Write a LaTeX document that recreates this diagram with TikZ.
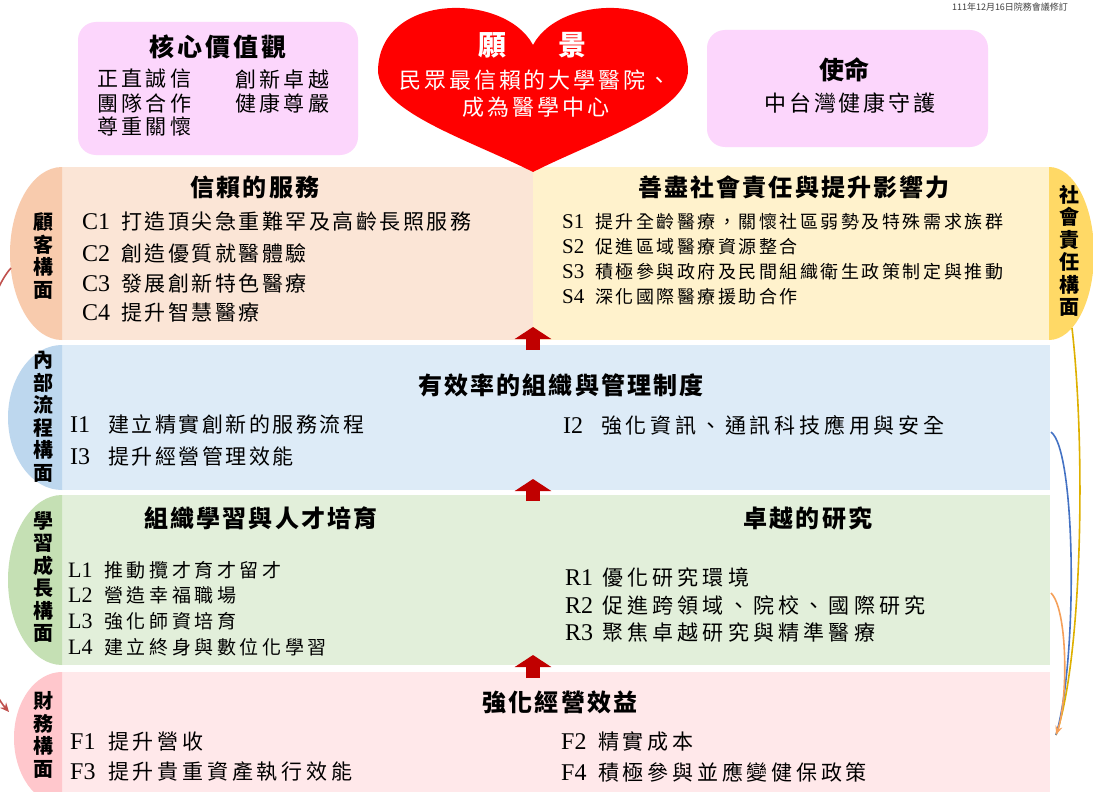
\documentclass[tikz,border=0pt]{standalone}
\usepackage{fontspec}
\setmainfont{Noto Sans CJK TC}
\newfontfamily\lat{Liberation Serif}
\usetikzlibrary{arrows.meta}
\definecolor{pinkbox}{RGB}{252,214,252}
\definecolor{heartred}{RGB}{255,0,0}
\definecolor{cusTab}{RGB}{248,203,173}
\definecolor{cusBody}{RGB}{251,229,214}
\definecolor{socBody}{RGB}{255,242,204}
\definecolor{socTab}{RGB}{255,217,102}
\definecolor{intTab}{RGB}{189,215,238}
\definecolor{intBody}{RGB}{221,235,247}
\definecolor{lrnTab}{RGB}{197,224,180}
\definecolor{lrnBody}{RGB}{226,239,218}
\definecolor{finTab}{RGB}{255,199,204}
\definecolor{finBody}{RGB}{255,232,234}
\definecolor{arrowred}{RGB}{192,0,0}
\definecolor{curveGold}{RGB}{222,176,0}
\definecolor{curveBlue}{RGB}{68,114,196}
\definecolor{curveOrange}{RGB}{245,160,90}
\definecolor{curveRed}{RGB}{192,80,77}
\newcommand\cd[3]{\makebox[#2pt][l]{\lat\fontsize{#1}{#1}\selectfont #3}}
\newcommand\fs[2]{\fontsize{#1}{#1}\selectfont\addfontfeatures{LetterSpace=#2}}
\tikzset{
  txt/.style={inner sep=0pt, anchor=west},
  ctr/.style={inner sep=0pt},
  ttl/.style={inner sep=0pt, font=\bfseries\fs{24}{9}},
  tablbl/.style={inner sep=0pt, align=center, font=\bfseries\fontsize{20}{22.5}\selectfont},
  pbox/.style={fill=pinkbox, rounded corners=18pt, inner sep=0pt},
  body/.style={inner sep=0pt, anchor=north west},
  blockarrow/.style={arrowred, line width=14pt, -{Triangle[width=36pt,length=12pt]}},
  curve/.style={line width=1.6pt}
}
\begin{document}
\begin{tikzpicture}[x=1pt,y=-1pt]
\useasboundingbox (0,0) rectangle (1093,792);
\fill[white] (0,0) rectangle (1093,792);

% date
\node[ctr, font=\fontsize{9}{9}\selectfont, black!75] (date) at (1010,7) {111年12月16日院務會議修訂};

% core values
\node[pbox, minimum width=280pt, minimum height=133pt] (core) at (218,88.5) {};
\node[ctr, font=\bfseries\fs{25}{12}] (coreT) at (218,47) {核心價值觀};
\node[txt, font=\fs{21}{16}] (v1) at (97,79) {正直誠信};
\node[txt, font=\fs{21}{16}] (v2) at (235,79) {創新卓越};
\node[txt, font=\fs{21}{16}] (v3) at (97,103) {團隊合作};
\node[txt, font=\fs{21}{16}] (v4) at (235,103) {健康尊嚴};
\node[txt, font=\fs{21}{16}] (v5) at (97,127) {尊重關懷};

% mission
\node[pbox, minimum width=281pt, minimum height=117pt] (mis) at (847.5,88.5) {};
\node[ctr, font=\bfseries\fs{25}{0}] (misT) at (844,70) {使命};
\node[ctr, font=\fs{22}{13}] (mis1) at (850,103) {中台灣健康守護};

% ---------- rows ----------
% customer
\node[body, fill=cusBody, minimum width=471pt, minimum height=173pt] (cusB) at (62,167) {};
\node[body, fill=socBody, minimum width=516pt, minimum height=173pt] (socB) at (533,167) {};
\fill[cusTab] (62,167) .. controls (33.3,167) and (10,205.7) .. (10,253.5) .. controls (10,301.3) and (33.3,340) .. (62,340) -- cycle;
\fill[socTab] (1049,167) .. controls (1073.9,167) and (1094,205.7) .. (1094,253.5) .. controls (1094,301.3) and (1073.9,340) .. (1049,340) -- cycle;
% internal
\node[body, fill=intBody, minimum width=988pt, minimum height=145pt] (intB) at (62,345) {};
\fill[intTab] (62,345) .. controls (32.2,345) and (8,377.5) .. (8,417.5) .. controls (8,457.5) and (32.2,490) .. (62,490) -- cycle;
% learning
\node[body, fill=lrnBody, minimum width=988pt, minimum height=170pt] (lrnB) at (62,495) {};
\fill[lrnTab] (62,495) .. controls (32.2,495) and (8,533) .. (8,580) .. controls (8,627) and (32.2,665) .. (62,665) -- cycle;
% finance
\node[body, fill=finBody, minimum width=988pt, minimum height=130pt] (finB) at (62,672) {};
\fill[finTab] (62,672) .. controls (35.5,672) and (14,701.3) .. (14,738) .. controls (14,774.7) and (35.5,805) .. (62,805) -- cycle;

% tab labels
\node[tablbl] (tabC) at (44,256) {顧\\客\\構\\面};
\node[tablbl] (tabS) at (1069,251) {社\\會\\責\\任\\構\\面};
\node[tablbl] (tabI) at (44,417) {內\\部\\流\\程\\構\\面};
\node[tablbl] (tabL) at (44,577) {學\\習\\成\\長\\構\\面};
\node[tablbl] (tabF) at (44,735) {財\\務\\構\\面};

% customer texts
\node[ttl] (cT) at (255,187) {信賴的服務};
\node[txt, font=\fs{21}{12}] (c1) at (82,222) {\cd{24}{39}{C1}打造頂尖急重難罕及高齡長照服務};
\node[txt, font=\fs{21}{12}] (c2) at (82,253) {\cd{24}{39}{C2}創造優質就醫體驗};
\node[txt, font=\fs{21}{12}] (c3) at (82,283) {\cd{24}{39}{C3}發展創新特色醫療};
\node[txt, font=\fs{21}{12}] (c4) at (82,313) {\cd{24}{39}{C4}提升智慧醫療};
% social texts
\node[ttl] (sT) at (794,187) {善盡社會責任與提升影響力};
\node[txt, font=\fs{18}{14}] (s1) at (562,222) {\cd{21}{33}{S1}提升全齡醫療，關懷社區弱勢及特殊需求族群};
\node[txt, font=\fs{18}{14}] (s2) at (562,247) {\cd{21}{33}{S2}促進區域醫療資源整合};
\node[txt, font=\fs{18}{14}] (s3) at (562,272) {\cd{21}{33}{S3}積極參與政府及民間組織衛生政策制定與推動};
\node[txt, font=\fs{18}{14}] (s4) at (562,297) {\cd{21}{33}{S4}深化國際醫療援助合作};
% internal texts
\node[ttl] (iT) at (561,385) {有效率的組織與管理制度};
\node[txt, font=\fs{21}{12}] (i1) at (70,425) {\cd{24}{38}{I1}建立精實創新的服務流程};
\node[txt, font=\fs{21}{18}] (i2) at (563,425) {\cd{24}{38}{I2}強化資訊、通訊科技應用與安全};
\node[txt, font=\fs{21}{12}] (i3) at (70,456) {\cd{24}{38}{I3}提升經營管理效能};
% learning texts
\node[ttl] (lT) at (261,518) {組織學習與人才培育};
\node[ttl] (rT) at (808,518) {卓越的研究};
\node[txt, font=\fs{19}{19}] (l1) at (68,570) {\cd{22}{36}{L1}推動攬才育才留才};
\node[txt, font=\fs{19}{19}] (l2) at (68,595) {\cd{22}{36}{L2}營造幸福職場};
\node[txt, font=\fs{19}{19}] (l3) at (68,621) {\cd{22}{36}{L3}強化師資培育};
\node[txt, font=\fs{19}{19}] (l4) at (68,647) {\cd{22}{36}{L4}建立終身與數位化學習};
\node[txt, font=\fs{21}{20}] (r1) at (565,577) {\cd{24}{37}{R1}優化研究環境};
\node[txt, font=\fs{21}{20}] (r2) at (565,605) {\cd{24}{37}{R2}促進跨領域、院校、國際研究};
\node[txt, font=\fs{21}{20}] (r3) at (565,633) {\cd{24}{37}{R3}聚焦卓越研究與精準醫療};
% finance texts
\node[ttl] (fT) at (560,702) {強化經營效益};
\node[txt, font=\fs{21}{18}] (f1) at (70,742) {\cd{24}{38}{F1}提升營收};
\node[txt, font=\fs{21}{18}] (f2) at (561,742) {\cd{24}{37}{F2}精實成本};
\node[txt, font=\fs{21}{18}] (f3) at (70,772) {\cd{24}{38}{F3}提升貴重資產執行效能};
\node[txt, font=\fs{21}{18}] (f4) at (561,772) {\cd{24}{37}{F4}積極參與並應變健保政策};

% block arrows between rows
\coordinate (a1s) at (533,350); \coordinate (a1e) at (533,327);
\coordinate (a2s) at (533,501); \coordinate (a2e) at (533,479);
\coordinate (a3s) at (533,678); \coordinate (a3e) at (533,655);
\draw[blockarrow] (a1s) -- (a1e);
\draw[blockarrow] (a2s) -- (a2e);
\draw[blockarrow] (a3s) -- (a3e);

% heart (vision)
\fill[heartred] (533,45) .. controls (505,-8) and (380,-8) .. (378,70) .. controls (378,112) and (470,140) .. (533,172) .. controls (596,140) and (688,112) .. (688,70) .. controls (686,-8) and (561,-8) .. (533,45) -- cycle;
\node[ctr, font=\bfseries\fontsize{28}{28}\selectfont, white] (visA) at (492,45) {願};
\node[ctr, font=\bfseries\fontsize{28}{28}\selectfont, white] (visB) at (572,45) {景};
\node[ctr, font=\fs{22}{13}, white] (vis1) at (535,80) {民眾最信賴的大學醫院、};
\node[ctr, font=\fs{22}{13}, white] (vis2) at (536,107) {成為醫學中心};

% right-side curves
\coordinate (yS) at (1072,328);
\coordinate (bS) at (1051,432);
\coordinate (oS) at (1051,593);
\coordinate (tgt) at (1056,735);
\draw[curve, curveGold] (yS) .. controls (1086,450) and (1082,660) .. (tgt);
\draw[curve, curveBlue] (bS) .. controls (1076,450) and (1078,660) .. (tgt);
\draw[curve, curveOrange, -{Stealth[length=9pt,width=7pt]}] (oS) .. controls (1068,610) and (1068,700) .. (tgt);

% left curve
\coordinate (rS) at (11,268);
\coordinate (rE) at (9,712);
\draw[curve, curveRed, -{Stealth[length=9pt,width=8pt]}] (rS) .. controls (-45,330) and (-45,650) .. (rE);
\end{tikzpicture}
\end{document}
